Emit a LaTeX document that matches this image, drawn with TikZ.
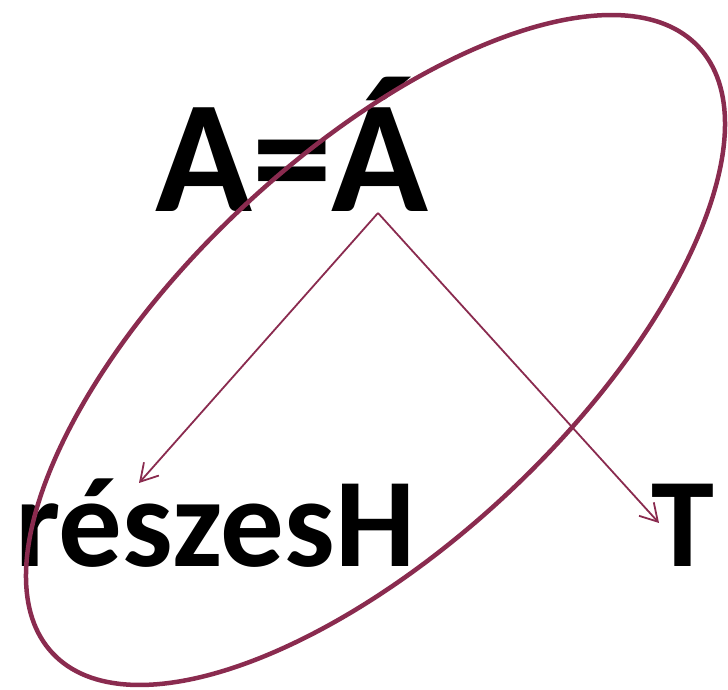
\documentclass[tikz,border=0pt]{standalone}
\usepackage{fontspec}
\setmainfont{Carlito}
\usetikzlibrary{arrows.meta}
\definecolor{elred}{HTML}{8A2B4F}

\begin{document}
\begin{tikzpicture}[x=1pt,y=1pt,
    word/.style={anchor=base west, inner sep=0pt, font=\fontsize{127}{130}\selectfont\bfseries},
    link/.style={elred, line width=1.8pt, -{Straight Barb[length=17pt,width=20pt]}}]
  \useasboundingbox (0,0) rectangle (728,690);
  \node[word, font=\fontsize{160}{162}\selectfont\bfseries] (aeq) at (155,478) {A=Á};
  \node[word] (reszes) at (15,123) {részesH};
  \node[word] (t) at (651,123) {T};
  \coordinate (fork) at (378,477);
  \coordinate (lend) at (139,207);
  \coordinate (rend) at (659,167);
  \draw[link] (fork) -- (lend);
  \draw[link] (fork) -- (rend);
  % tilted ring round the left branch
  \draw[elred, line width=4.5pt, rotate around={43.2:(375.5,340)}]
    (375.5,340) ellipse [x radius=443pt, y radius=195pt];
\end{tikzpicture}
\end{document}
